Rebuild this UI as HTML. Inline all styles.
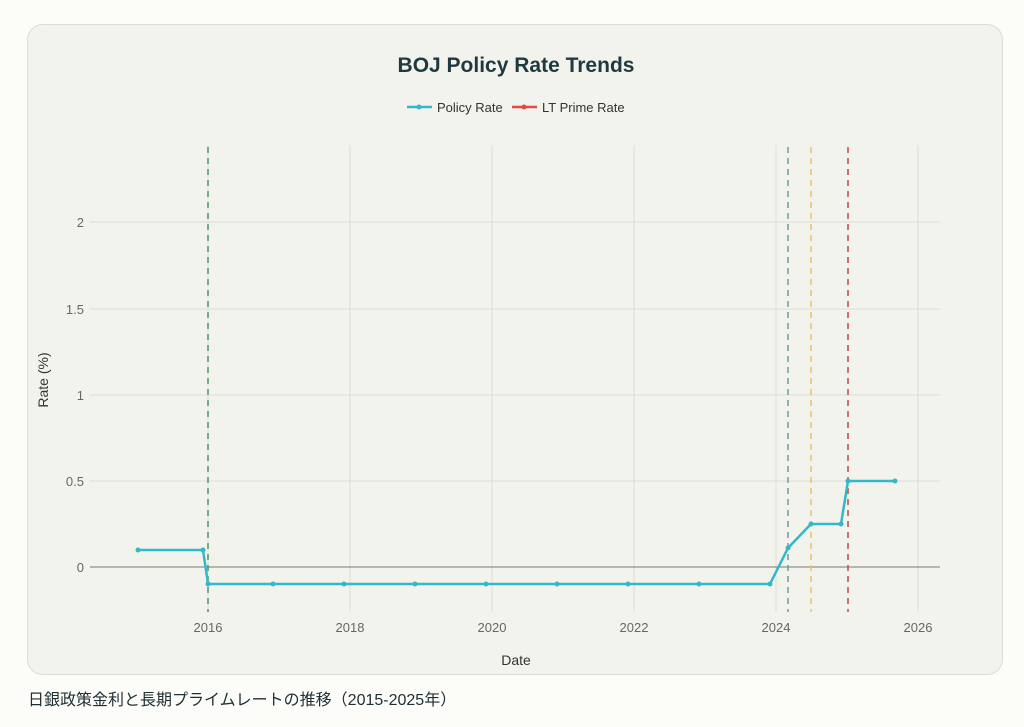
<!DOCTYPE html>
<html><head><meta charset="utf-8"><style>
body{margin:0;width:1024px;height:727px;background:#fcfcf9;font-family:"Liberation Sans","Noto Sans CJK JP",sans-serif;position:relative;overflow:hidden}
.card{position:absolute;left:27px;top:24px;width:976px;height:651px;background:#f3f3ee;border:1px solid #dcdcd6;border-radius:16px;box-sizing:border-box}
.cap{position:absolute;left:28px;top:686px;font-size:16px;color:#1f2f33}
</style></head><body>
<div class="card"></div>
<svg width="1024" height="727" style="position:absolute;left:0;top:0" font-family="Liberation Sans, sans-serif">
<text x="516" y="72" text-anchor="middle" font-size="21" font-weight="bold" fill="#1e3a40">BOJ Policy Rate Trends</text>
<line x1="407" y1="107" x2="432" y2="107" stroke="#32b8c6" stroke-width="2.5"/><circle cx="419" cy="107" r="2.5" fill="#32b8c6"/>
<text x="437" y="112" font-size="13" fill="#333">Policy Rate</text>
<line x1="512" y1="107" x2="537" y2="107" stroke="#e04b43" stroke-width="2.5"/><circle cx="524" cy="107" r="2.5" fill="#e04b43"/>
<text x="542" y="112" font-size="13" fill="#333">LT Prime Rate</text>
<g stroke="#dcdcd6" stroke-width="1">
<line x1="90" y1="481" x2="940" y2="481"/><line x1="90" y1="395" x2="940" y2="395"/><line x1="90" y1="309" x2="940" y2="309"/><line x1="90" y1="222" x2="940" y2="222"/>
<line x1="208" y1="145" x2="208" y2="612"/><line x1="350" y1="145" x2="350" y2="612"/><line x1="492" y1="145" x2="492" y2="612"/><line x1="634" y1="145" x2="634" y2="612"/><line x1="776" y1="145" x2="776" y2="612"/><line x1="918" y1="145" x2="918" y2="612"/>
</g>
<line x1="90" y1="567" x2="940" y2="567" stroke="#777" stroke-width="1"/>
<g font-size="13" fill="#666" text-anchor="end">
<text x="84" y="572">0</text><text x="84" y="486">0.5</text><text x="84" y="400">1</text><text x="84" y="314">1.5</text><text x="84" y="227">2</text></g>
<g font-size="13" fill="#666" text-anchor="middle">
<text x="208" y="632">2016</text><text x="350" y="632">2018</text><text x="492" y="632">2020</text><text x="634" y="632">2022</text><text x="776" y="632">2024</text><text x="918" y="632">2026</text></g>
<text x="516" y="665" text-anchor="middle" font-size="14" fill="#333">Date</text>
<text transform="translate(48,380) rotate(-90)" text-anchor="middle" font-size="14" fill="#333">Rate (%)</text>
<g stroke-width="1.5" stroke-dasharray="6,5">
<line x1="208" y1="147" x2="208" y2="612" stroke="#4a9468"/>
<line x1="788" y1="147" x2="788" y2="612" stroke="#6f9aa5"/>
<line x1="811" y1="147" x2="811" y2="612" stroke="#e3c46e"/>
<line x1="848" y1="147" x2="848" y2="612" stroke="#c04848"/>
</g>
<polyline fill="none" stroke="#32b8c6" stroke-width="2.5" stroke-linejoin="round" points="138,550 203,550 208,584 273,584 344,584 415,584 486,584 557,584 628,584 699,584 770,584 788,548 811,524 841,524 848,481 895,481"/>
<g fill="#32b8c6">
<circle cx="138" cy="550" r="2.5"/><circle cx="203" cy="550" r="2.5"/><circle cx="208" cy="584" r="2.5"/><circle cx="273" cy="584" r="2.5"/><circle cx="344" cy="584" r="2.5"/><circle cx="415" cy="584" r="2.5"/><circle cx="486" cy="584" r="2.5"/><circle cx="557" cy="584" r="2.5"/><circle cx="628" cy="584" r="2.5"/><circle cx="699" cy="584" r="2.5"/><circle cx="770" cy="584" r="2.5"/><circle cx="788" cy="548" r="2.5"/><circle cx="811" cy="524" r="2.5"/><circle cx="841" cy="524" r="2.5"/><circle cx="848" cy="481" r="2.5"/><circle cx="895" cy="481" r="2.5"/>
</g>
</svg>
<div class="cap">日銀政策金利と長期プライムレートの推移（2015-2025年）</div>
</body></html>
